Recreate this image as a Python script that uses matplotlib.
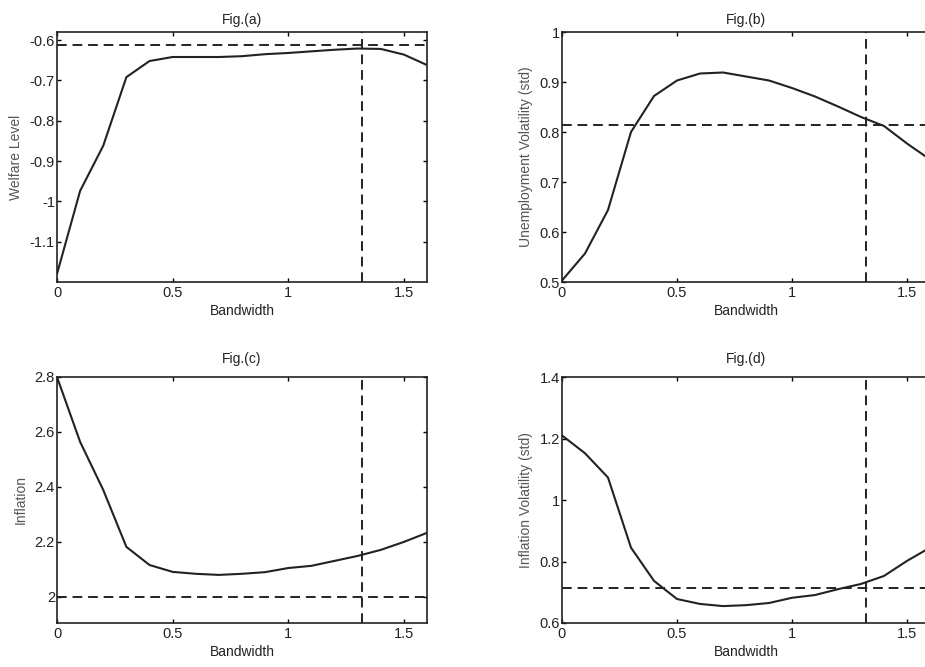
import numpy as np
import matplotlib.pyplot as plt

plt.rcParams['font.family'] = ['Liberation Sans', 'DejaVu Sans']
plt.rcParams['font.size'] = 10

bandwidth = [0.0, 0.1, 0.2, 0.3, 0.4, 0.5, 0.6, 0.7, 0.8, 0.9,
             1.0, 1.1, 1.2, 1.3, 1.4, 1.5, 1.6]

welfare = [-1.18, -0.974, -0.862, -0.692, -0.652, -0.642, -0.642, -0.642,
           -0.640, -0.635, -0.632, -0.628, -0.624, -0.621, -0.622, -0.636, -0.662]
unemp_vol = [0.503, 0.557, 0.644, 0.800, 0.872, 0.903, 0.917, 0.919, 0.911,
             0.903, 0.888, 0.871, 0.851, 0.830, 0.812, 0.777, 0.745]
inflation = [2.80, 2.564, 2.389, 2.182, 2.116, 2.091, 2.084, 2.080, 2.084,
             2.090, 2.105, 2.113, 2.131, 2.149, 2.171, 2.200, 2.233]
infl_vol = [1.21, 1.152, 1.073, 0.845, 0.737, 0.678, 0.662, 0.655, 0.658,
            0.665, 0.682, 0.691, 0.710, 0.727, 0.753, 0.802, 0.845]

# reference levels (dashed)
chosen_bw = 1.32
welfare_ref = -0.612
unemp_ref = 0.814
infl_ref = 2.0
infl_vol_ref = 0.714

W, H = 925, 667
fig = plt.figure(figsize=(W / 100, H / 100), dpi=100)


def box(left, top, right, bottom):
    return [left / W, 1 - bottom / H, (right - left) / W, (bottom - top) / H]


panels = [
    (box(57, 32, 427, 282), welfare, welfare_ref, 'Fig.(a)', 'Welfare Level', 6,
     (-1.2, -0.58), [-1.1, -1.0, -0.9, -0.8, -0.7, -0.6], ['-1.1', '-1', '-0.9', '-0.8', '-0.7', '-0.6']),
    (box(562, 32, 930, 282), unemp_vol, unemp_ref, 'Fig.(b)', 'Unemployment Volatility (std)', 6,
     (0.5, 1.0), [0.5, 0.6, 0.7, 0.8, 0.9, 1.0], ['0.5', '0.6', '0.7', '0.8', '0.9', '1']),
    (box(57, 377, 427, 623), inflation, infl_ref, 'Fig.(c)', 'Inflation', 10,
     (1.905, 2.8), [2.0, 2.2, 2.4, 2.6, 2.8], ['2', '2.2', '2.4', '2.6', '2.8']),
    (box(562, 377, 930, 623), infl_vol, infl_vol_ref, 'Fig.(d)', 'Inflation Volatility (std)', 10,
     (0.6, 1.4), [0.6, 0.8, 1.0, 1.2, 1.4], ['0.6', '0.8', '1', '1.2', '1.4']),
]

for rect, series, ref, title, ylab, tpad, ylim, yt, ytl in panels:
    ax = fig.add_axes(rect)
    ax.plot(bandwidth, series, color='#222222', lw=1.5)
    ax.axhline(ref, color='#222222', lw=1.4, ls=(0, (5, 3)))
    ax.axvline(chosen_bw, color='#222222', lw=1.4, ls=(0, (5, 3)))
    ax.set_xlim(0, 1.6)
    ax.set_ylim(*ylim)
    ax.set_xticks([0, 0.5, 1, 1.5])
    ax.set_xticklabels(['0', '0.5', '1', '1.5'], fontsize=10.5, color='#222222')
    ax.set_yticks(yt)
    ax.set_yticklabels(ytl, fontsize=10.5, color='#222222')
    ax.tick_params(axis='x', direction='in', length=3, width=1, top=True, pad=3)
    ax.tick_params(axis='y', direction='in', length=3, width=1, right=True, pad=1.5)
    for s in ax.spines.values():
        s.set_linewidth(1.2)
        s.set_color('#222222')
    ax.set_title(title, fontsize=10, pad=tpad, color='#222222')
    ax.set_xlabel('Bandwidth', fontsize=10, labelpad=3, color='#222222')
    ax.set_ylabel(ylab, fontsize=10, labelpad=5, color='#555555')

fig.savefig('out.png', dpi=100)
